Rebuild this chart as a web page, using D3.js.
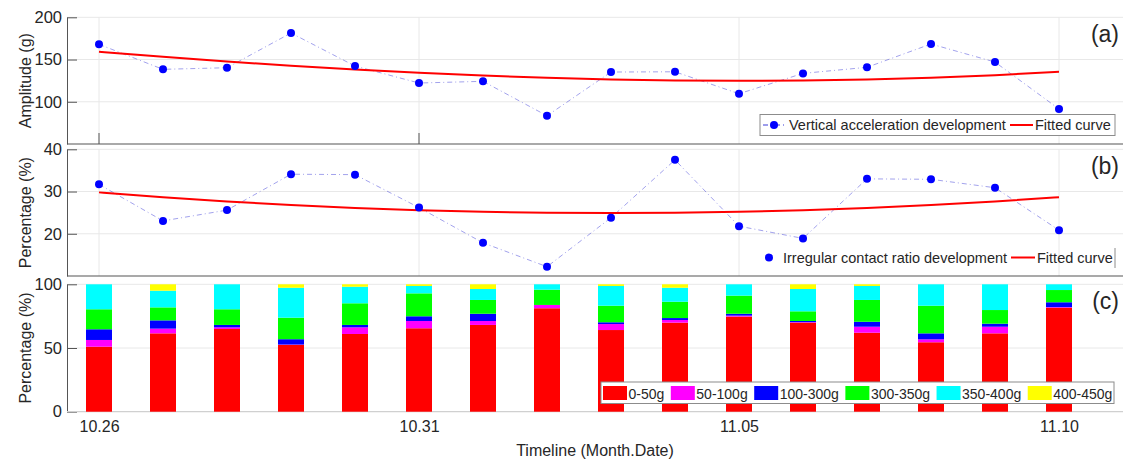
<!DOCTYPE html>
<html>
<head>
<meta charset="utf-8">
<script src="https://cdn.jsdelivr.net/npm/d3@7"></script>
<style>
  html, body { margin: 0; padding: 0; background: #fff; }
  svg { display: block; font-family: "Liberation Sans", Arial, Helvetica, sans-serif; }
</style>
</head>
<body>
<svg id="chart" width="1123" height="459"></svg>
<script>
// Measurement dates (Month.Date)
const dates = ["10.26","10.27","10.28","10.29","10.30","10.31","11.01","11.02",
               "11.03","11.04","11.05","11.06","11.07","11.08","11.09","11.10"];
const tickDates = ["10.26","10.31","11.05","11.10"];
const markedDates = ["10.26","10.31"];

// (a) vertical acceleration amplitude (g) and its fitted curve
const amplitude = [168, 138.4, 140.3, 181.4, 142.3, 122.2, 124.2, 83.4,
                   135.2, 135.5, 109.5, 133.6, 140.8, 168.4, 147, 91.4];
const amplitudeFit = [159.2, 153.2, 147.7, 142.7, 138.2, 134.3, 131.0, 128.4,
                      126.4, 125.2, 124.8, 125.2, 126.4, 128.5, 131.5, 135.5];
const amplitudeTicks = [100, 150, 200];

// (b) irregular contact ratio (%) and its fitted curve
const contactRatio = [31.7, 23.05, 25.6, 34.1, 34.0, 26.2, 17.85, 12.2,
                      23.8, 37.5, 21.8, 18.9, 33.0, 32.9, 30.9, 20.85];
const contactFit = [29.8, 28.65, 27.66, 26.82, 26.13, 25.59, 25.21, 24.98,
                    24.9, 24.98, 25.21, 25.59, 26.13, 26.82, 27.66, 28.65];
const ratioTicks = [20, 30, 40];

// (c) share of impacts per amplitude band (%)
const bands = ["0-50g", "50-100g", "100-300g", "300-350g", "350-400g", "400-450g"];
const bandColors = ["#ff0000", "#ff00ff", "#0000ff", "#00ff00", "#00ffff", "#ffff00"];
const band0to50    = [51.0, 61.5, 64.9, 52.4, 61.0, 65.5, 68.1, 81.2, 64.1, 69.9, 74.6, 69.9, 62.0, 54.5, 61.5, 81.6];
const band50to100  = [5.3, 3.7, 1.3, 0.3, 5.2, 5.7, 3.1, 2.6, 4.7, 2.1, 0.8, 0.4, 4.7, 2.3, 5.2, 0.5];
const band100to300 = [8.4, 6.5, 1.9, 4.2, 1.9, 3.7, 5.7, 0.0, 1.4, 1.5, 1.5, 0.9, 3.9, 4.7, 2.4, 3.8];
const band300to350 = [15.7, 10.2, 12.3, 16.9, 17.0, 18.0, 10.8, 12.0, 13.0, 12.8, 14.2, 7.6, 17.1, 21.7, 10.7, 9.6];
const band350to400 = [19.6, 13.1, 19.6, 23.5, 13.0, 5.8, 8.6, 4.2, 15.5, 11.0, 8.9, 17.5, 11.0, 16.8, 20.2, 4.5];
const band400to450 = [0.0, 5.0, 0.0, 2.7, 1.9, 1.3, 3.7, 0.0, 1.3, 2.7, 0.0, 3.7, 1.3, 0.0, 0.0, 0.0];
const percentTicks = [0, 50, 100];

const svg = d3.select("#chart");
const textColor = "#262626";
const axisColor = "#555555";
const gridColor = "#e8e8e8";
const left = 67, right = 1123;

// shared x position by date index
const x = d3.scaleLinear().domain([-0.5, 16]).range([left, right]);
const idx = d => dates.indexOf(d);

const panels = [
  { key: "a", top: 17.3, bottom: 144, domain: [50, 200], ticks: amplitudeTicks, title: "Amplitude (g)" },
  { key: "b", top: 149.3, bottom: 276, domain: [10, 40], ticks: ratioTicks, title: "Percentage (%)" },
  { key: "c", top: 284.3, bottom: 411.7, domain: [0, 100], ticks: percentTicks, title: "Percentage (%)" }
];

panels.forEach(p => {
  p.y = d3.scaleLinear().domain(p.domain).range([p.bottom, p.top]);
  p.g = svg.append("g");

  // horizontal grid
  p.g.append("g")
    .selectAll("line").data(p.ticks.filter(t => t !== p.domain[0])).join("line")
    .attr("x1", left).attr("x2", right)
    .attr("y1", d => p.y(d)).attr("y2", d => p.y(d))
    .attr("stroke", gridColor).attr("stroke-width", 1);
  // vertical grid at labelled dates
  p.g.append("g")
    .selectAll("line").data(tickDates).join("line")
    .attr("x1", d => x(idx(d))).attr("x2", d => x(idx(d)))
    .attr("y1", p.top).attr("y2", p.bottom)
    .attr("stroke", gridColor).attr("stroke-width", 1);
});

function drawAxes(p, showXTicks) {
  const yAxis = d3.axisLeft(p.y).tickValues(p.ticks).tickSizeInner(-10).tickSizeOuter(0).tickPadding(5);
  const ga = p.g.append("g").attr("transform", `translate(${left},0)`).call(yAxis);
  ga.select(".domain").attr("stroke", axisColor);
  ga.selectAll(".tick line").attr("stroke", axisColor);
  ga.selectAll("text").attr("fill", textColor).style("font-size", "16.5px")
    .style("font-family", "'Liberation Sans', Arial, sans-serif");

  // bottom baseline
  p.g.append("line").attr("x1", left).attr("x2", right)
    .attr("y1", p.bottom).attr("y2", p.bottom)
    .attr("stroke", p.key === "c" ? "#d0d0d0" : axisColor).attr("stroke-width", 1.2);

  if (showXTicks) {
    p.g.append("g").selectAll("line").data(markedDates).join("line")
      .attr("x1", d => x(idx(d))).attr("x2", d => x(idx(d)))
      .attr("y1", p.bottom).attr("y2", p.bottom - 11)
      .attr("stroke", axisColor).attr("stroke-width", 1);
  }

  p.g.append("text")
    .attr("transform", `translate(25,${(p.top + p.bottom) / 2}) rotate(-90)`)
    .attr("text-anchor", "middle").attr("dy", "0.35em")
    .attr("fill", textColor).style("font-size", "16px")
    .text(p.title);

  p.g.append("text")
    .attr("x", 1119).attr("y", p.top + 25)
    .attr("text-anchor", "end").attr("fill", textColor)
    .style("font-size", "23px")
    .text(`(${p.key})`);
}

// dotted dash-dot trace with filled markers, plus the red fitted curve
function drawSeries(p, values, fit) {
  const line = d3.line().x((d, i) => x(i)).y(d => p.y(d));
  p.g.append("path").datum(values).attr("d", line)
    .attr("fill", "none").attr("stroke", "#3a3ad8").attr("stroke-opacity", 0.6)
    .attr("stroke-width", 0.8).attr("stroke-dasharray", "5,3,1,3");
  p.g.append("path").datum(fit).attr("d", line.curve(d3.curveMonotoneX))
    .attr("fill", "none").attr("stroke", "#ff0000").attr("stroke-width", 2);
  p.g.append("g").selectAll("circle").data(values).join("circle")
    .attr("cx", (d, i) => x(i)).attr("cy", d => p.y(d)).attr("r", 4)
    .attr("fill", "#0000ff");
}

// ---- (a)
const pa = panels[0];
drawAxes(pa, true);
drawSeries(pa, amplitude, amplitudeFit);
{
  const lg = pa.g.append("g");
  lg.append("rect").attr("x", 760).attr("y", 114.5).attr("width", 355).attr("height", 21)
    .attr("fill", "#fff").attr("stroke", "#8c8c8c").attr("stroke-width", 1);
  lg.append("line").attr("x1", 763).attr("x2", 785).attr("y1", 125).attr("y2", 125)
    .attr("stroke", "#3a3ad8").attr("stroke-width", 1).attr("stroke-dasharray", "5,3,1,3");
  lg.append("circle").attr("cx", 774).attr("cy", 125).attr("r", 4).attr("fill", "#0000ff");
  lg.append("text").attr("x", 789).attr("y", 130).attr("fill", textColor).style("font-size", "14.5px")
    .text("Vertical acceleration development");
  lg.append("line").attr("x1", 1010).attr("x2", 1033).attr("y1", 125).attr("y2", 125)
    .attr("stroke", "#ff0000").attr("stroke-width", 2);
  lg.append("text").attr("x", 1035).attr("y", 130).attr("fill", textColor).style("font-size", "14.5px")
    .text("Fitted curve");
}

// ---- (b)
const pb = panels[1];
drawAxes(pb, false);
drawSeries(pb, contactRatio, contactFit);
{
  const lg = pb.g.append("g");
  lg.append("circle").attr("cx", 769).attr("cy", 257.5).attr("r", 4).attr("fill", "#0000ff");
  lg.append("text").attr("x", 783).attr("y", 262.5).attr("fill", textColor).style("font-size", "14.5px")
    .text("Irregular contact ratio development");
  lg.append("line").attr("x1", 1011).attr("x2", 1035).attr("y1", 257.5).attr("y2", 257.5)
    .attr("stroke", "#ff0000").attr("stroke-width", 2);
  lg.append("text").attr("x", 1037).attr("y", 262.5).attr("fill", textColor).style("font-size", "14.5px")
    .text("Fitted curve");
  lg.append("line").attr("x1", 1115).attr("x2", 1115).attr("y1", 248).attr("y2", 268)
    .attr("stroke", "#8c8c8c").attr("stroke-width", 1);
}

// ---- (c) stacked percentage bars
const pc = panels[2];
drawAxes(pc, false);
const bandSeries = [band0to50, band50to100, band100to300, band300to350, band350to400, band400to450];
const table = dates.map((d, i) => {
  const row = { date: d };
  bands.forEach((b, k) => { row[b] = bandSeries[k][i]; });
  return row;
});
const stacked = d3.stack().keys(bands)(table);
pc.g.append("g").selectAll("g").data(stacked).join("g")
  .attr("fill", (s, k) => bandColors[k])
  .selectAll("rect").data(s => s).join("rect")
  .attr("x", d => x(idx(d.data.date)) - 13)
  .attr("width", 26)
  .attr("y", d => pc.y(d[1]))
  .attr("height", d => Math.max(0, pc.y(d[0]) - pc.y(d[1])));

// x tick labels and title
const xAxis = d3.axisBottom(x)
  .tickValues(tickDates.map(idx))
  .tickFormat(i => dates[i])
  .tickSize(0).tickPadding(9);
const gx = svg.append("g").attr("transform", `translate(0,${pc.bottom})`).call(xAxis);
gx.select(".domain").remove();
gx.selectAll("text").attr("fill", textColor).style("font-size", "16px")
  .style("font-family", "'Liberation Sans', Arial, sans-serif");
svg.append("text").attr("x", (left + right) / 2).attr("y", 456)
  .attr("text-anchor", "middle").attr("fill", textColor).style("font-size", "16px")
  .text("Timeline (Month.Date)");

// legend for (c)
{
  const lg = svg.append("g");
  lg.append("rect").attr("x", 601).attr("y", 382).attr("width", 513).attr("height", 21.5)
    .attr("fill", "#fff").attr("stroke", "#8c8c8c").attr("stroke-width", 1);
  let cx = 603;
  bands.forEach((b, k) => {
    lg.append("rect").attr("x", cx).attr("y", 386).attr("width", 24).attr("height", 14)
      .attr("fill", bandColors[k]);
    const t = lg.append("text").attr("x", cx + 25.5).attr("y", 398.5)
      .attr("fill", textColor).style("font-size", "14px").text(b);
    cx += 25.5 + t.node().getComputedTextLength() + 6.5;
  });
}
</script>
</body>
</html>
